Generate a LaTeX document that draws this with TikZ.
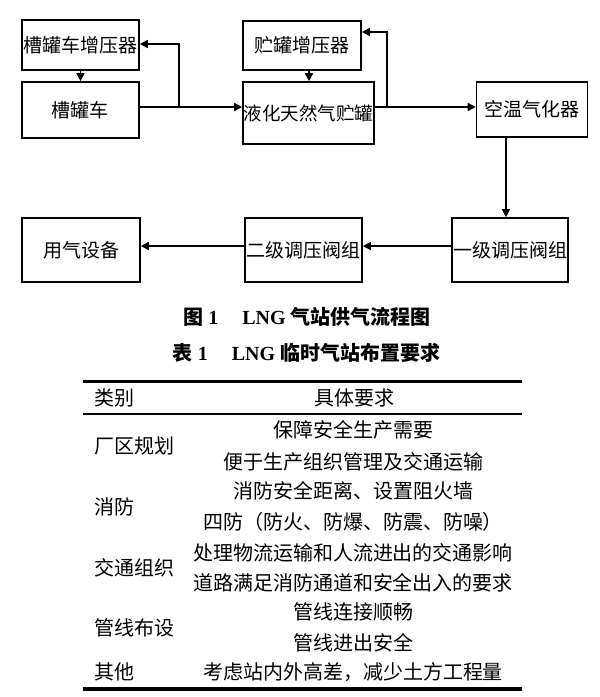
\documentclass[tikz,border=0pt]{standalone}
\usepackage{fontspec}
\setmainfont{Liberation Serif}
\newfontfamily\cjk{Noto Sans CJK SC}
\usetikzlibrary{arrows.meta}
\begin{document}
\begin{tikzpicture}[x=1pt,y=-1pt,
  box/.style={draw,line width=1.6pt,inner sep=0pt,font=\cjk\fontsize{19}{22}\selectfont},
  arr/.style={line width=1.6pt,-{Triangle[length=8pt,width=8pt]}},
  cell/.style={inner sep=0pt,font=\cjk\fontsize{20}{23}\selectfont},
  captext/.style={inner sep=0pt,font=\bfseries\fontsize{20}{23}\selectfont}]
\useasboundingbox (0,0) rectangle (600,697);
\fill[white] (0,0) rectangle (600,697);
% boxes
\node[box,minimum width=117pt,minimum height=50pt] (zy) at (80.5,45) {槽罐车增压器};
\node[box,minimum width=117pt,minimum height=56pt] (cg) at (80.5,110) {槽罐车};
\node[box,minimum width=118pt,minimum height=49pt] (cy) at (302,45.5) {贮罐增压器};
\node[box,minimum width=131pt,minimum height=62pt,font=\cjk\fontsize{18.5}{22}\selectfont] (lh) at (308.5,113) {液化天然气贮罐};
\node[box,minimum width=111pt,minimum height=55pt] (kw) at (532,109.5) {空温气化器};
\node[box,minimum width=116pt,minimum height=64pt] (yj) at (510,250) {一级调压阀组};
\node[box,minimum width=117pt,minimum height=64pt] (ej) at (303.5,250) {二级调压阀组};
\node[box,minimum width=118pt,minimum height=64pt] (yq) at (81,250) {用气设备};
% connectors
\coordinate (m1) at (179,107);
\coordinate (t1) at (179,44);
\coordinate (m2) at (387,107);
\coordinate (t2) at (387,32);
\draw[arr] (zy.south) -- (cg.north);
\draw[arr] (cy.south -| 309,0) -- (lh.north -| 309,0);
\draw[arr] (cg.east |- m1) -- (lh.west |- m1);
\draw[arr] (m1) -- (t1) -- (zy.east |- t1);
\draw[arr] (lh.east |- m2) -- (kw.west |- m2);
\draw[arr] (m2) -- (t2) -- (cy.east |- t2);
\draw[arr] (kw.south -| 506,0) -- (yj.north -| 506,0);
\draw[arr] (yj.west |- 0,246) -- (ej.east |- 0,246);
\draw[arr] (ej.west |- 0,246) -- (yq.east |- 0,246);
% captions
\node[captext] (c1) at (307,317) {{\cjk 图} 1\hspace{1.2em}LNG {\cjk 气站供气流程图}};
\node[captext] (c2) at (306.5,353) {{\cjk 表} 1\hspace{1.2em}LNG {\cjk 临时气站布置要求}};
% table rules
\draw[line width=3pt] (83,381) -- (522,381);
\draw[line width=1.5pt] (83,414) -- (522,414);
\draw[line width=3.5pt] (83,689) -- (522,689);
% table text
\node[cell,anchor=west] (h1) at (94,398) {类别};
\node[cell] (h2) at (354,398) {具体要求};
\node[cell,anchor=west] (l1) at (94,446) {厂区规划};
\node[cell] (r1) at (353,430) {保障安全生产需要};
\node[cell] (r2) at (353,462) {便于生产组织管理及交通运输};
\node[cell,anchor=west] (l2) at (94,507) {消防};
\node[cell] (r3) at (353,491) {消防安全距离、设置阻火墙};
\node[cell] (r4) at (353,522) {四防（防火、防爆、防震、防噪）};
\node[cell,anchor=west] (l3) at (94,568) {交通组织};
\node[cell] (r5) at (353,553) {处理物流运输和人流进出的交通影响};
\node[cell] (r6) at (353,583) {道路满足消防通道和安全出入的要求};
\node[cell,anchor=west] (l4) at (94,628) {管线布设};
\node[cell] (r7) at (353,612) {管线连接顺畅};
\node[cell] (r8) at (353,643) {管线进出安全};
\node[cell,anchor=west] (l5) at (94,672) {其他};
\node[cell] (r9) at (353,672) {考虑站内外高差，减少土方工程量};
\end{tikzpicture}
\end{document}
